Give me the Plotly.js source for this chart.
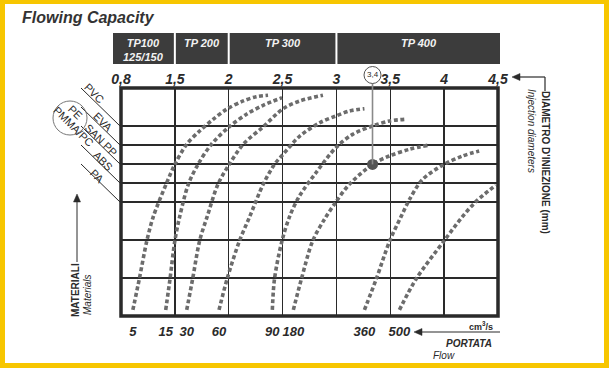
<!DOCTYPE html>
<html><head><meta charset="utf-8">
<script src="https://cdn.plot.ly/plotly-3.0.1.min.js"></script>
<style>html,body{margin:0;padding:0;background:#fff}#chart{width:609px;height:368px}</style>
</head><body><div id="chart"></div>
<script>
// ---- data ----
const diameters = ['0,8','1,5','2','2,5','3','3,5','4','4,5'];
const flowLabels = ['5','15','30','60','90','180','360','500'];
const materials = ['PVC','EVA','SAN PP','ABS','PA'];
const materialLevels = [10,9,8,7,6];
const extraLevels = [2,4];
const presses = ['TP100<br>125/150','TP 200','TP 300','TP 400'];
const pressFrom = ['0,8','1,5','2','3'];
const pressTo = ['1,5','2','3','4,5'];

// curves: x in diameter-scale steps, y in material-scale steps
const f5x   = [0.22,0.34,0.48,0.60,0.85,1.00,1.22,1.46,1.71,1.96,2.27,2.51,2.73];
const f5y   = [0.32,1.95,3.96,5.23,7.02,7.98,9.04,9.74,10.35,10.88,11.32,11.54,11.62];
const f15x  = [0.83,0.91,1.00,1.09,1.25,1.43,1.68,2.01,2.33,2.64,2.99];
const f15y  = [0.32,1.95,3.96,5.23,6.93,7.98,9.04,9.96,10.62,11.09,11.49];
const f30x  = [1.22,1.33,1.46,1.60,1.80,2.01,2.27,2.64,3.01,3.32,3.75];
const f30y  = [0.32,1.95,3.96,5.23,6.93,7.98,9.04,9.96,10.91,11.32,11.62];
const f60x  = [1.82,1.97,2.20,2.39,2.64,2.85,3.01,3.32,3.69,3.99,4.24,4.52];
const f60y  = [0.32,1.95,3.96,5.23,6.93,7.98,8.51,9.47,10.17,10.53,10.79,10.91];
const f90x  = [2.81,2.85,2.99,3.13,3.31,3.62,3.99,4.30,4.67,4.98,5.26];
const f90y  = [0.32,1.95,3.96,5.23,6.30,7.54,8.86,9.56,10.00,10.26,10.35];
const f180x = [3.20,3.35,3.56,3.78,3.99,4.24,4.67,4.98,5.35,5.69];
const f180y = [0.32,1.95,3.96,5.10,6.00,6.93,7.98,8.42,8.77,8.98];
const f360x = [4.52,4.74,4.99,5.20,5.36,5.60,6.00,6.34,6.65];
const f360y = [0.32,1.95,3.96,5.23,6.15,7.19,7.98,8.42,8.68];
const f500x = [5.17,5.48,6.00,6.34,6.59,6.96];
const f500y = [0.32,1.95,3.96,5.23,6.02,6.89];

const pointX = 4.67, pointY = 7.98, pointLabel = '3,4';

// ---- layout helpers ----
const W=609,H=368,L=121,R=111,T=88,B=52;
const PW=W-L-R, PH=H-T-B;
const XMAX = diameters.length-1, YMAX = 12;
const PX = p => (p-L)/PW;
const PY = p => (H-B-p)/PH;
const pxOfIdx = i => L + i*PW/XMAX;

const curveXs=[f5x,f15x,f30x,f60x,f90x,f180x,f360x,f500x];
const curveYs=[f5y,f15y,f30y,f60y,f90y,f180y,f360y,f500y];

const dark='#2a2a2a';
const FAM='Liberation Sans, Arial, sans-serif';
const traces = curveXs.map((xs,i)=>({
  x:xs, y:curveYs[i], type:'scatter', mode:'lines', name:flowLabels[i],
  line:{color:'#6c6c6c', width:3.6, dash:'4px,2.6px', shape:'spline', smoothing:0.9},
  hoverinfo:'skip', showlegend:false
}));
traces.push({x:[pointX], y:[pointY], xaxis:'x2', yaxis:'y', type:'scatter', mode:'markers',
  marker:{size:11, color:'#555'}, showlegend:false, hoverinfo:'skip'});

const fontB = (size,color)=>({family:FAM, size, color:color||dark, weight:'bold', style:'italic'});

const shapes = [];
const annotations = [];
function txt(x,y,text,font,extra){
  annotations.push(Object.assign({xref:'paper', yref:'paper', x:PX(x), y:PY(y), text, showarrow:false,
    xanchor:'center', yanchor:'middle', font}, extra||{}));
}
function line(x0,y0,x1,y1,color,width){
  shapes.push({type:'line', xref:'paper', yref:'paper', x0:PX(x0), y0:PY(y0), x1:PX(x1), y1:PY(y1),
    line:{color, width}});
}
function tri(pts,color){
  const d = 'M ' + pts.map(p=>PX(p[0])+','+PY(p[1])).join(' L ') + ' Z';
  shapes.push({type:'path', xref:'paper', yref:'paper', path:d, fillcolor:color, line:{color, width:0.5}});
}
// frame
shapes.push({type:'rect', xref:'paper', yref:'paper', x0:PX(5), x1:PX(604), y0:PY(363), y1:PY(4),
  fillcolor:'#fff', line:{width:0}, layer:'below'});
// plot border
shapes.push({type:'rect', xref:'paper', yref:'paper', x0:0, x1:1, y0:0, y1:1,
  line:{color:dark, width:3.5}, layer:'above'});
// press header boxes
presses.forEach((p,i)=>{
  const a = pxOfIdx(diameters.indexOf(pressFrom[i])) + (i===0 ? -8 : 1);
  const b = pxOfIdx(diameters.indexOf(pressTo[i])) + (i===presses.length-1 ? 2 : -1);
  shapes.push({type:'rect', xref:'paper', yref:'paper', x0:PX(a), x1:PX(b), y0:PY(64), y1:PY(33),
    fillcolor:'#3c3c3c', line:{width:0}});
  txt((a+b)/2, 35, p, fontB(11,'#f2f2f2'), {yanchor:'top'});
});
// material lines and labels
materialLevels.forEach(lv=>{
  const yp = H-B - lv*PH/YMAX;
  line(81, yp-38, 120, yp, dark, 1);
});
const matPos = [[94,93],[103,122],[101,140],[103,161],[97,176]];
const mfont = {family:FAM, size:11, color:dark};
materials.forEach((m,i)=> txt(matPos[i][0], matPos[i][1], m, mfont, {textangle:45}));
txt(75, 112, 'PE', mfont, {textangle:45});
txt(73, 126, 'PMMA/PC', mfont, {textangle:45});
shapes.push({type:'circle', xref:'paper', yref:'paper', x0:PX(53), x1:PX(87), y0:PY(135), y1:PY(101),
  line:{color:'#777', width:1}});
// point guide line and circled label
const ptPx = L + pointX*PW/XMAX;
shapes.push({type:'line', xref:'paper', yref:'paper', x0:pointX/XMAX, x1:pointX/XMAX, y0:pointY/YMAX, y1:PY(83),
  line:{color:'#8a8a8a', width:1.6}});
shapes.push({type:'circle', xref:'paper', yref:'paper', x0:PX(ptPx-8.5), x1:PX(ptPx+8.5), y0:PY(83.5), y1:PY(66.5),
  line:{color:'#555', width:1}, fillcolor:'#fff'});
txt(ptPx, 75, pointLabel, {family:FAM, size:8, color:dark});
// title
txt(20, 17, 'Flowing Capacity', fontB(16,'#333'), {xanchor:'left'});
// right side
line(519, 77, 545, 77, dark, 1.2);
tri([[512,77],[520,73.5],[520,80.5]], dark);
line(545, 77, 545, 91, dark, 1.2);
txt(546, 162, "DIAMETRO D'INIEZIONE (mm)", {family:FAM, size:10, color:dark, weight:'bold'}, {textangle:90});
txt(532, 131, 'Injection diameters', {family:FAM, size:10, color:dark, style:'italic'}, {textangle:90});
// left side
line(77, 201, 77, 262, dark, 1);
tri([[77,194],[73.5,202],[80.5,202]], dark);
txt(75, 290, 'MATERIALI', {family:FAM, size:10, color:dark, weight:'bold'}, {textangle:-90});
txt(87, 295, 'Materials', {family:FAM, size:10, color:dark, style:'italic'}, {textangle:-90});
// bottom right
line(421, 332, 500, 332, dark, 1.2);
tri([[414,332],[422,328.5],[422,335.5]], dark);
txt(481, 326, 'cm<sup>3</sup>/s', {family:FAM, size:9, color:dark, weight:'bold'});
txt(469, 343, 'PORTATA', fontB(10,dark));
txt(444, 355, 'Flow', {family:FAM, size:10, color:dark, style:'italic'});

const layout = {
  width:W, height:H, margin:{l:L, r:R, t:T, b:B, pad:0},
  paper_bgcolor:'#F7C600', plot_bgcolor:'#fff', showlegend:false,
  xaxis:{range:[0,XMAX], tickmode:'array', tickvals:curveXs.map(a=>a[0]), ticktext:flowLabels,
    showgrid:false, zeroline:false, showline:false, ticks:'', ticklabelstandoff:6,
    tickfont:fontB(13,dark)},
  xaxis2:{overlaying:'x', side:'top', range:[0,XMAX], tickmode:'array',
    tickvals:diameters.map((d,i)=>i), ticktext:diameters, showgrid:true, gridcolor:dark, gridwidth:1.3,
    zeroline:false, showline:false, ticks:'', tickfont:fontB(14,dark)},
  yaxis:{range:[0,YMAX], tickmode:'array', tickvals:extraLevels.concat(materialLevels),
    showticklabels:false, showgrid:true, gridcolor:dark, gridwidth:1.3, zeroline:false, showline:false, ticks:''},
  shapes, annotations
};
Plotly.newPlot('chart', traces, layout, {staticPlot:true, displayModeBar:false});
</script></body></html>
